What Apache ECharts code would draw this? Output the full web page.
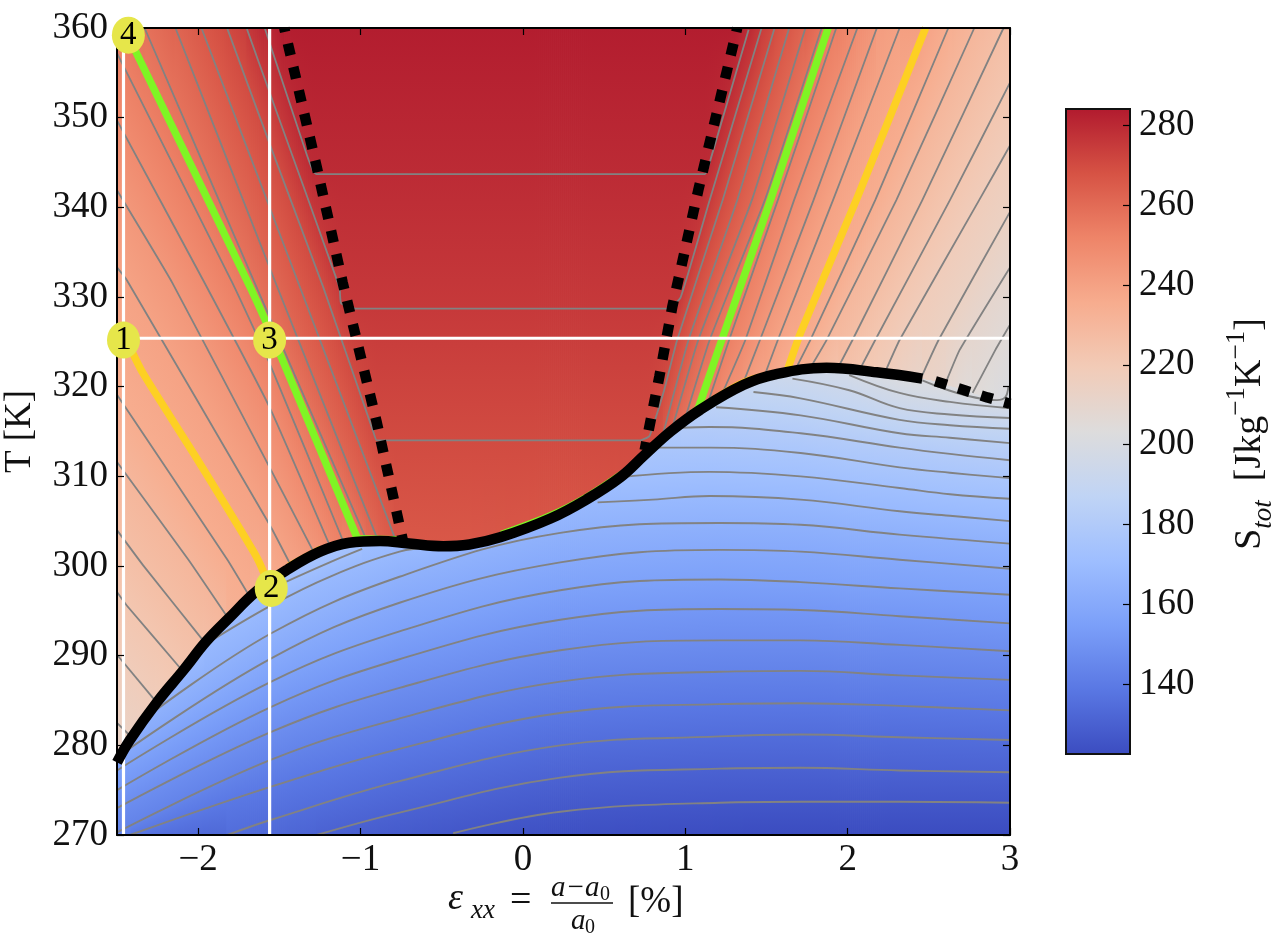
<!DOCTYPE html>
<html><head><meta charset="utf-8">
<script src="https://cdn.jsdelivr.net/npm/echarts@6/dist/echarts.min.js"></script>
<style>html,body{margin:0;padding:0;background:#fff}#c{width:1279px;height:940px}</style>
</head><body><div id="c"></div>
<script>
// ---------- ticks ----------
const xTicks=[-2,-1,0,1,2,3];
const yRange=[270,360], xRange=[-2.5,3];
const barTicks=[140,160,180,200,220,240,260,280];
const barRange=[122.6,284];
const cmap=['#3b4cc0','#5977e3','#7b9ff9','#9ebeff','#c0d4f5','#dddcdc','#f2cbb7','#f7ac8e','#ee8468','#d65244','#b11a2e'];
// ---------- phase lines ----------
const boundarySolid=[[-2.5,278.1],[-2.42,280.6],[-2.25,284.9],[-2.09,288.4],[-1.95,291.6],[-1.81,294.2],[-1.64,297.2],[-1.45,299.6],[-1.25,301.6],[-1.07,302.6],[-0.88,302.8],[-0.70,302.5],[-0.49,302.2],[-0.33,302.4],[-0.14,303.2],[0.17,305.3],[0.39,307.4],[0.60,309.9],[0.75,312.4],[0.91,315.0],[1.09,317.4],[1.36,320.2],[1.56,321.4],[1.87,322.1],[2.18,321.6],[2.46,320.9]];
const boundaryDash=[[2.54,320.6],[2.72,319.6],[2.86,318.8],[3,318.1]];
const dashLeft=[[-1.47,360],[-1.27,344.5],[-1.11,331.6],[-0.90,316],[-0.74,302.9]];
const dashRight=[[1.32,360],[1.08,341.9],[0.92,328.9],[0.84,321.1],[0.75,312.9]];
const greenLeft=[[-2.44,359.2],[-2.38,357.2],[-1.68,331.1],[-1.50,323.8],[-1.02,303.1]];
const greenRight=[[1.88,360],[1.53,341.1],[1.24,326],[1.08,317.6]];
const orangeLeft=[[-2.45,325.5],[-2.34,321.5],[-2.03,312.6],[-1.64,301],[-1.56,297.7]];
const orangeRight=[[2.48,360],[2.06,341.1],[1.71,326],[1.63,321.9]];
const greenRidgeA=[[-0.14,303.8],[0.17,305.95],[0.39,308],[0.60,310.5]];
const greenRidgeB=[[-1.02,303.35],[-0.75,303.2]];
const greenRidgeC=[[0.75,313.0],[1.08,317.95]];
const orangeRidgeA=[[1.1,318],[1.36,320.8],[1.63,322.05]];
const orangeRidgeB=[[-1.45,300.25],[-1.25,302.2]];
const whiteV1=[[-2.46,270],[-2.46,360]];
const whiteV2=[[-1.56,270],[-1.56,360]];
const whiteH=[[-2.5,325.4],[3,325.4]];
const markers=[[-2.46,325.2,'1'],[-1.55,297.5,'2'],[-1.56,325.2,'3'],[-2.43,359.2,'4']];
// ---------- entropy level of each contour index ----------
const levelS=[126.8,131,135.1,139.3,143.4,147.6,151.7,155.9,160,164.2,168.3,172.5,176.6,180.8,184.9,189.1,193.2,197.4,201.5,205.7,209.8,214,218.1,222.3,226.4,230.6,235,239.7,244,248.7,253,257.5,261.5,265.5,270,275,279];
const flatTopEnds=[-1.47,1.32], flatTopS=283.2;
// ---------- contours below the transition ----------
const k00=[[-0.43,270.2],[0.23,272.6],[1.21,273.6],[1.71,273.7],[2.32,273.7],[3,273.6]];
const k01=[[-1.27,270],[-0.76,272.5],[0.23,276.4],[1.21,277.4],[1.71,277.5],[2.32,277.2],[3,277]];
const k02=[[-1.82,270],[-1.55,271.7],[-0.76,276],[0.23,280],[1.21,281],[1.71,281.2],[2.32,280.9],[3,280.6]];
const k03=[[-2.42,270],[-1.55,275.4],[-0.76,279.6],[0.23,283.6],[1.21,284.6],[1.71,284.7],[2.32,284.4],[3,283.9]];
const k04=[[-2.5,270.3],[-1.55,278.4],[-0.76,283],[0.23,287.1],[1.21,288.2],[1.71,288.3],[2.32,287.8],[3,287.3]];
const k05=[[-2.5,273],[-1.55,281.5],[-0.76,286.4],[0.23,290.6],[1.21,291.7],[1.71,291.7],[2.32,291.2],[3,290.5]];
const k06=[[-2.5,275],[-1.55,284.3],[-0.76,289.6],[0.23,294],[1.21,295.2],[1.71,295.1],[2.32,294.4],[3,293.6]];
const k07=[[-2.5,277.2],[-1.55,287.1],[-0.76,292.7],[0.23,297.3],[1.21,298.5],[1.71,298.2],[2.32,297.5],[3,296.8]];
const k08=[[-2.45,279.3],[-1.55,289.7],[-0.76,295.9],[0.23,300.4],[1.21,301.8],[1.71,301.6],[2.32,300.7],[3,299.7]];
const k09=[[-2.30,283.4],[-1.55,292.5],[-0.76,298.8],[0.23,303.7],[1.21,304.8],[1.71,304.6],[2.32,303.5],[3,302.5]];
const k10a=[[-1.96,291.2],[-1.55,295.6],[-1.19,298.8],[-0.76,301.6],[-0.57,302]];
const k10b=[[0.46,307.1],[0.80,307.4],[1.15,307.8],[1.71,307.4],[2.32,306.1],[2.63,305.6],[3,305]];
const k11a=[[-1.50,297.9],[-1.19,300.4],[-0.99,301.9]];
const k11b=[[0.60,309.9],[1.15,310.5],[1.71,310],[2.32,308.7],[2.63,308],[3,307.5]];
const k12=[[0.78,313.2],[1.15,313.2],[1.71,312.6],[2.32,311],[2.63,310.4],[3,309.8]];
const k13=[[0.97,315.4],[1.15,315.5],[1.71,314.8],[2.32,313.2],[2.63,312.5],[3,311.8]];
const k14=[[1.19,317.7],[1.71,316.8],[2.32,314.8],[2.63,314.3],[3,313.7]];
const k15=[[1.42,319.4],[1.71,318.7],[2.32,316.3],[2.63,315.7],[3,315.3]];
const k16=[[1.66,320.9],[2.01,319.6],[2.32,317.6],[2.63,316.9],[3,316.5]];
const k17=[[2.01,321.3],[2.32,319.3],[2.63,318.3],[3,317.6]];
const k18=[[2.46,320.7],[2.92,318.5],[2.97,318.8],[2.99,320]];
// ---------- contours right of the transition ----------
const r19=[[2.77,319.3],[2.91,324.1],[3,326.9]];
const r20=[[2.61,320.7],[2.69,324.1],[3,333.3]];
const r21=[[2.46,321.3],[2.56,325.2],[3,339.5]];
const r22=[[2.23,321.6],[2.32,325.2],[2.81,340.8],[3,346.9]];
const r23=[[2.08,322.1],[2.17,325.2],[2.63,340.8],[3,353.9]];
const r24=[[1.94,322.1],[2.03,325.2],[2.46,340.8],[2.96,360]];
const r25=[[1.77,322.1],[1.87,325.2],[2.30,340.8],[2.78,360]];
const r26=[[1.68,322],[1.77,325.2],[2.17,340.8],[2.62,360]];
const r27=[[1.49,321.3],[1.57,325.2],[1.91,340.8],[2.32,360]];
const r28=[[1.35,320.1],[1.46,325.2],[1.79,340.8],[2.18,360]];
const r29=[[1.21,318.5],[1.37,325.2],[1.67,340.8],[2.06,360]];
const r30=[[1.13,317.7],[1.27,325.2],[1.57,340.8],[1.93,360]];
const r31=[[1.00,316.5],[1.15,325.2],[1.49,340.8],[1.84,360]];
const r32=[[0.92,315.4],[1.08,325.2],[1.41,340.8],[1.74,360]];
const r33=[[0.86,314.5],[1.02,325.2],[1.32,340.8],[1.64,360]];
// ---------- contours left of the transition ----------
const l21=[[-2.50,282.5],[-2.41,280.9]];
const l22=[[-2.50,290.1],[-2.27,285.1]];
const l23=[[-2.50,297.1],[-2.44,295.6],[-2.11,288.6]];
const l24=[[-2.5,304],[-2.34,300.1],[-1.97,291.7]];
const l25=[[-2.5,311.6],[-2.06,300.7],[-1.82,294.3]];
const l26=[[-2.5,319.1],[-1.82,300.7],[-1.68,296.5]];
const l27=[[-2.5,333.3],[-2.44,331.9],[-1.56,304.6],[-1.43,300.1]];
const l28=[[-2.5,341.9],[-2.16,331.6],[-1.56,311],[-1.29,301.6]];
const l29=[[-2.5,349.7],[-1.97,331.9],[-1.56,317.7],[-1.19,302.3]];
const l30=[[-2.5,357.2],[-1.79,331.6],[-1.56,322.6],[-1.11,302.9]];
const l31=[[-2.33,360],[-1.66,331.9],[-0.97,303.2]];
const l32=[[-2.14,360],[-1.53,331.9],[-0.90,303.2]];
const l33=[[-1.98,360],[-1.39,331.9],[-0.79,303.2]];
// ---------- contours that cross the flat region ----------
const f34=[[-1.82,359.9],[-1.55,346.6],[-1.23,331.1],[-0.92,314.9],[-0.90,314],[0.72,314],[0.78,314.5],[0.87,319.6],[0.95,325.2],[1.23,340.8],[1.55,360]];
const f35=[[-1.70,359.9],[-1.55,352.3],[-1.13,331.1],[-1.12,329.3],[-1.03,328.7],[0.89,328.7],[0.97,329.9],[1.15,340.8],[1.47,360]];
const f36=[[-1.59,360],[-1.55,357.8],[-1.33,345.8],[-1.29,344],[-1.27,343.7],[1.12,343.7],[1.16,345.6],[1.39,359.8]];

const contours=[[0,k00],[1,k01],[2,k02],[3,k03],[4,k04],[5,k05],[6,k06],[7,k07],[8,k08],[9,k09],[10,k10a],[10,k10b],[11,k11a],[11,k11b],[12,k12],[13,k13],[14,k14],[15,k15],[16,k16],[17,k17],[18,k18],
 [19,r19],[20,r20],[21,r21],[22,r22],[23,r23],[24,r24],[25,r25],[26,r26],[27,r27],[28,r28],[29,r29],[30,r30],[31,r31],[32,r32],[33,r33],
 [21,l21],[22,l22],[23,l23],[24,l24],[25,l25],[26,l26],[27,l27],[28,l28],[29,l29],[30,l30],[31,l31],[32,l32],[33,l33],[34,f34],[35,f35],[36,f36]];

// ---------- helpers ----------
const FONT='"Liberation Serif","Times New Roman",serif';
const hex=c=>[parseInt(c.slice(1,3),16),parseInt(c.slice(3,5),16),parseInt(c.slice(5,7),16)];
const cmapRgb=cmap.map(hex);
function colorOf(S){
  let t=(S-barRange[0])/(barRange[1]-barRange[0]);t=Math.max(0,Math.min(1,t))*(cmap.length-1);
  const i=Math.min(cmap.length-2,Math.floor(t)),f=t-i,a=cmapRgb[i],b=cmapRgb[i+1];
  return 'rgb('+[0,1,2].map(j=>Math.round(a[j]+(b[j]-a[j])*f)).join(',')+')';
}
function at(pts,x){
  if(x<pts[0][0]||x>pts[pts.length-1][0])return null;
  for(let i=1;i<pts.length;i++){
    if(x<=pts[i][0]){const a=pts[i-1],b=pts[i],d=b[0]-a[0];return d<=0?b[1]:a[1]+(b[1]-a[1])*(x-a[0])/d;}
  }
  return pts[pts.length-1][1];
}
const boundaryAll=boundarySolid.concat(boundaryDash);
function extrap(p,q,T,fallback){
  if(!p)return fallback;
  if(!q)return p[1]+Math.sign(T-p[0])*Math.min(3,Math.abs(T-p[0])*0.8);
  const dT=q[0]-p[0];
  if(Math.abs(dT)<0.05)return p[1];
  const s=(q[1]-p[1])/dT;
  let d=s*(T-p[0]);
  d=Math.max(-6,Math.min(6,d));
  return p[1]+d;
}
function stopsAt(x){
  const Tb=at(boundaryAll,x),lo=[],up=[];
  contours.forEach(c=>{const T=at(c[1],x);if(T===null)return;
    if(c[0]<=18){if(T<Tb-0.02)lo.push([T,levelS[c[0]]]);}
    else if(T>Tb+0.02)up.push([T,levelS[c[0]]]);});
  if(x>=flatTopEnds[0]&&x<=flatTopEnds[1])up.push([360,flatTopS]);
  lo.sort((a,b)=>a[0]-b[0]);up.sort((a,b)=>a[0]-b[0]);
  const off=T=>Math.max(0,Math.min(1,(360-T)/90));
  const pts=[];
  const n=lo.length,m=up.length;
  const loBot=extrap(lo[0],lo[1],270,123);
  const loTop=extrap(lo[n-1],lo[n-2],Tb,200);
  const upBot=extrap(up[0],up[1],Tb,205);
  const upTop=(m&&up[m-1][0]>=360)?up[m-1][1]:extrap(up[m-1],up[m-2],360,230);
  pts.push([360,upTop]);
  for(let i=m-1;i>=0;i--)pts.push([up[i][0],up[i][1]]);
  pts.push([Tb,upBot]);pts.push([Tb,loTop]);
  for(let i=n-1;i>=0;i--)pts.push([lo[i][0],lo[i][1]]);
  pts.push([270,loBot]);
  return pts.map(p=>({offset:off(p[0]),color:colorOf(p[1])}));
}
const stripEps=[];for(let i=0;i<448;i++)stripEps.push([xRange[0]+(i+0.5)*(xRange[1]-xRange[0])/448,270]);

const lineS=(data,color,width,z,extra)=>Object.assign({type:'line',data,showSymbol:false,symbol:'none',silent:true,animation:false,z,xAxisIndex:0,yAxisIndex:0,
  lineStyle:{color,width,join:'round'}},extra||{});

const series=[];
series.push({type:'custom',xAxisIndex:0,yAxisIndex:0,z:1,silent:true,animation:false,clip:true,progressive:0,data:stripEps,
  renderItem(p,api){
    const x=api.value(0),a=api.coord([x,360]),b=api.coord([x,270]);
    const w=893/448+0.8;
    return {type:'rect',shape:{x:a[0]-w/2,y:a[1],width:w,height:b[1]-a[1]},
      style:{fill:new echarts.graphic.LinearGradient(0,0,0,1,stopsAt(x))}};
  }});
contours.forEach(c=>{
  const blue=c[0]<=18;
  series.push(lineS(c[1],'#828282',blue?1.9:1.8,3,{smooth:blue?0.4:0.12}));
});
[greenRidgeA,greenRidgeB,greenRidgeC].forEach(d=>series.push(lineS(d,'#7ff524',2,4,{smooth:0.3})));
[orangeRidgeA,orangeRidgeB].forEach(d=>series.push(lineS(d,'#fdd023',2,4,{smooth:0.3})));
[greenLeft,greenRight].forEach(d=>series.push(lineS(d,'#7ff524',7.5,4,{smooth:0.2})));
[orangeLeft,orangeRight].forEach(d=>series.push(lineS(d,'#fdd023',7.5,4,{smooth:0.2})));
[whiteV1,whiteV2,whiteH].forEach(d=>series.push(lineS(d,'#ffffff',3.2,5)));
series.push(lineS(boundarySolid,'#000',10.5,6,{smooth:0.4}));
[dashLeft,dashRight].forEach(d=>series.push(lineS(d,'#000',10.5,6,{lineStyle:{color:'#000',width:10.5,type:[12,12],dashOffset:8,cap:'butt'}})));
series.push(lineS(boundaryDash,'#000',10.5,6,{lineStyle:{color:'#000',width:10.5,type:[12,12],cap:'butt'}}));
series.push({type:'scatter',xAxisIndex:0,yAxisIndex:0,z:9,silent:true,animation:false,clip:false,data:markers.map(m=>({value:[m[0],m[1]],label:{formatter:m[2]}})),
  symbol:'circle',symbolSize:[33,37],itemStyle:{color:'#e6e64a',opacity:1},
  label:{show:true,position:'inside',color:'#000',fontFamily:FONT,fontSize:33}});
series.push({type:'custom',xAxisIndex:2,yAxisIndex:2,z:1,silent:true,animation:false,clip:false,data:[[0,barRange[0]]],
  renderItem(p,api){
    const a=api.coord([0,barRange[1]]),b=api.coord([1,barRange[0]]);
    return {type:'rect',shape:{x:a[0],y:a[1],width:b[0]-a[0],height:b[1]-a[1]},
      style:{fill:new echarts.graphic.LinearGradient(0,0,0,1,cmap.map((c,i)=>({offset:1-i/(cmap.length-1),color:c})).reverse()),stroke:'#111',lineWidth:2}};
  }});

const tickStyle={inside:true,length:7,lineStyle:{color:'#000',width:1.2}};
const frame={show:true,onZero:false,lineStyle:{color:'#000',width:2}};
const label={color:'#111',fontFamily:FONT,fontSize:37};
const fmt=v=>v<0?'\u2212'+Math.abs(v):String(v);

const option={
  animation:false,backgroundColor:'#fff',
  grid:[{left:117,top:28,width:893,height:807,containLabel:false,outerBoundsMode:'none'},{left:1066,top:109,width:64,height:645,containLabel:false,outerBoundsMode:'none'}],
  xAxis:[
    {gridIndex:0,type:'value',min:xRange[0],max:xRange[1],position:'bottom',z:8,splitLine:{show:false},axisLine:frame,
      axisTick:Object.assign({customValues:xTicks},tickStyle),axisLabel:Object.assign({customValues:xTicks,formatter:fmt,margin:7},label)},
    {gridIndex:0,type:'value',min:xRange[0],max:xRange[1],position:'top',z:8,splitLine:{show:false},axisLine:frame,
      axisTick:Object.assign({customValues:xTicks},tickStyle),axisLabel:{show:false}},
    {gridIndex:1,type:'value',min:0,max:1,show:false}
  ],
  yAxis:[
    {gridIndex:0,type:'value',min:yRange[0],max:yRange[1],interval:10,position:'left',z:8,splitLine:{show:false},axisLine:frame,axisTick:tickStyle,
      axisLabel:Object.assign({margin:9},label),name:'T [K]',nameLocation:'middle',nameRotate:90,nameGap:78,
      nameTextStyle:{color:'#111',fontFamily:FONT,fontSize:37}},
    {gridIndex:0,type:'value',min:yRange[0],max:yRange[1],interval:10,position:'right',z:8,splitLine:{show:false},axisLine:frame,axisTick:tickStyle,axisLabel:{show:false}},
    {gridIndex:1,type:'value',min:barRange[0],max:barRange[1],position:'right',z:8,splitLine:{show:false},axisLine:{show:false,onZero:false},
      axisTick:Object.assign({customValues:barTicks},tickStyle),axisLabel:Object.assign({customValues:barTicks,margin:9},label)}
  ],
  series,
  graphic:[
    ...[
      ['\u03b5',448,899,38,'italic'],['xx',471,911,27,'italic'],['=',510,901,38,'normal'],
      ['a\u2212a',551,888,29,'italic'],['0',600,895,20,'normal'],['a',571,921,29,'italic'],['0',585,928,20,'normal'],['[%]',628,902,37,'normal']
    ].map(t=>({type:'text',x:t[1],y:t[2],silent:true,style:{text:t[0],fontFamily:FONT,fontSize:t[3],fontStyle:t[4],fill:'#111',align:'left',verticalAlign:'middle'}})),
    {type:'line',silent:true,shape:{x1:551,y1:903,x2:613,y2:903},style:{stroke:'#111',lineWidth:1.5}},
    {type:'text',x:1250,y:434,rotation:Math.PI/2,silent:true,style:{
      text:'{s|S}{t|tot}{s|  [Jkg}{u|\u22121}{s|K}{u|\u22121}{s|]}',align:'center',verticalAlign:'middle',
      rich:{s:{fontFamily:FONT,fontSize:38,fill:'#111',lineHeight:54},
            t:{fontFamily:FONT,fontSize:27,fontStyle:'italic',fill:'#111',verticalAlign:'bottom',lineHeight:54},
            u:{fontFamily:FONT,fontSize:27,fill:'#111',verticalAlign:'top',lineHeight:54}}}}
  ]
};
const chart=echarts.init(document.getElementById('c'),null,{renderer:'canvas'});
chart.setOption(option);
</script></body></html>
